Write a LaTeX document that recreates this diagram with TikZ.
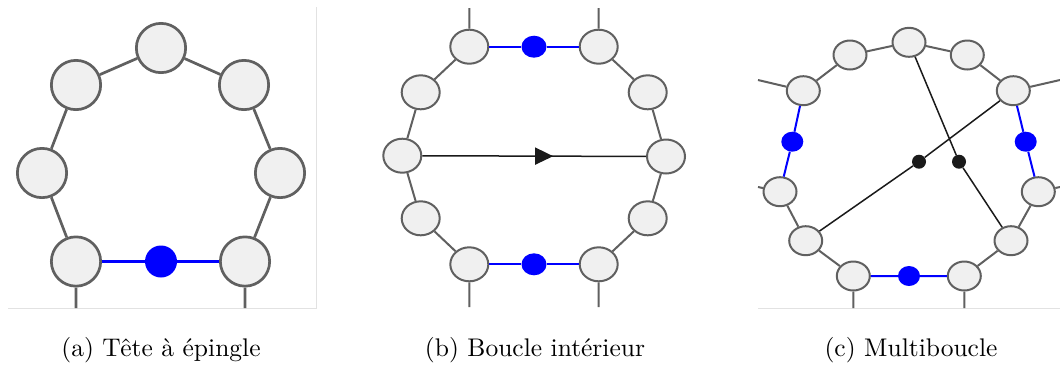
\documentclass[tikz,border=0pt]{standalone}
\usetikzlibrary{shapes.geometric,arrows.meta,decorations.markings}
\definecolor{ngray}{HTML}{606060}
\definecolor{nfill}{HTML}{F0F0F0}
\definecolor{framec}{HTML}{E2E2E2}
\definecolor{dk}{HTML}{1A1A1A}
\definecolor{bl}{RGB}{0,0,255}
\begin{document}
\begin{tikzpicture}[x=1pt,y=-1pt,
  anode/.style={circle,draw=ngray,fill=nfill,line width=2.7pt,inner sep=0pt,minimum size=49.3pt},
  aedge/.style={draw=ngray,line width=2.7pt},
  ablue/.style={circle,fill=bl,inner sep=0pt,minimum size=32pt},
  abedge/.style={draw=bl,line width=2.4pt},
  bnode/.style={ellipse,draw=ngray,fill=nfill,line width=2pt,inner sep=0pt,minimum width=38pt,minimum height=34pt},
  bedge/.style={draw=ngray,line width=2pt},
  bblue/.style={ellipse,fill=bl,inner sep=0pt,minimum width=25pt,minimum height=22pt},
  bbedge/.style={draw=bl,line width=2pt},
  cnode/.style={ellipse,draw=ngray,fill=nfill,line width=2pt,inner sep=0pt,minimum width=33pt,minimum height=29pt},
  cblue/.style={ellipse,fill=bl,inner sep=0pt,minimum width=22pt,minimum height=20pt},
  cdot/.style={circle,fill=dk,inner sep=0pt,minimum size=14pt},
  blk/.style={draw=dk,line width=1.5pt},
  framel/.style={draw=framec,line width=1pt},
  captxt/.style={anchor=base,inner sep=0pt}
]
\useasboundingbox (0,0) rectangle (1060,368);
% frames
\draw[framel] (8,308) -- (316,308) -- (316,7);
\draw[framel] (758,308) -- (1060,308);

% ---------- panel (a)
\node[anode] (a1) at (42,173) {};
\node[anode] (a2) at (76,85) {};
\node[anode] (a3) at (161,48) {};
\node[anode] (a4) at (244,85) {};
\node[anode] (a5) at (280,173) {};
\node[anode] (a6) at (245,261.5) {};
\node[anode] (a7) at (76,261.5) {};
\node[ablue] (ab) at (161,261.5) {};
\coordinate (as1) at (76,308);
\coordinate (as2) at (245,308);
\path[aedge] (a1) -- (a2) (a2) -- (a3) (a3) -- (a4) (a4) -- (a5) (a5) -- (a6) (a7) -- (a1)
  (a7) -- (as1) (a6) -- (as2);
\path[abedge] (a7) -- (ab) (ab) -- (a6);

% ---------- panel (b)
\node[bnode] (b1) at (402.3,155.7) {};
\node[bnode] (b2) at (420.7,92.3) {};
\node[bnode] (b3) at (469.3,46.7) {};
\node[bblue] (bt) at (534,46.7) {};
\node[bnode] (b4) at (598.7,46.7) {};
\node[bnode] (b5) at (647.7,92.3) {};
\node[bnode] (b6) at (666,156.5) {};
\node[bnode] (b7) at (647.7,218.3) {};
\node[bnode] (b8) at (598.7,264.3) {};
\node[bblue] (bb) at (534,264.3) {};
\node[bnode] (b9) at (469.3,264.3) {};
\node[bnode] (b10) at (420.7,218.3) {};
\coordinate (bs1) at (469.3,8);
\coordinate (bs2) at (598.7,8);
\coordinate (bs3) at (469.3,307);
\coordinate (bs4) at (598.7,307);
\path[bedge] (b1) -- (b2) (b2) -- (b3) (b4) -- (b5) (b5) -- (b6) (b6) -- (b7) (b7) -- (b8)
  (b9) -- (b10) (b10) -- (b1) (b3) -- (bs1) (b4) -- (bs2) (b9) -- (bs3) (b8) -- (bs4);
\path[bbedge] (b3) -- (bt) (bt) -- (b4) (b9) -- (bb) (bb) -- (b8);
\draw[blk, decoration={markings, mark=at position 0.585 with {\arrow{Triangle[length=18pt,width=17pt]}}}, postaction={decorate}] (b1) -- (b6);

% ---------- panel (c)
\node[cnode] (c1) at (909,42.3) {};
\node[cnode] (c2) at (850,55) {};
\node[cnode] (c3) at (967.3,55) {};
\node[cnode] (c4) at (803.3,90.7) {};
\node[cnode] (c5) at (1013.3,90.7) {};
\node[cblue] (cl) at (792.3,141.7) {};
\node[cblue] (cr) at (1025.7,141.7) {};
\node[cnode] (c6) at (780,191.7) {};
\node[cnode] (c7) at (1038.3,191.7) {};
\node[cnode] (c8) at (805.7,240.7) {};
\node[cnode] (c9) at (1011,240.7) {};
\node[cnode] (c10) at (853.3,276) {};
\node[cnode] (c11) at (964.3,276) {};
\node[cblue] (cb) at (909,276) {};
\node[cdot] (d1) at (919,161.7) {};
\node[cdot] (d2) at (959,161.7) {};
\coordinate (cs1) at (758,80);
\coordinate (cs2) at (1060,80);
\coordinate (cs3) at (758,187);
\coordinate (cs4) at (1060,187);
\coordinate (cs5) at (853.3,308);
\coordinate (cs6) at (964.3,308);
\path[bedge] (c1) -- (c2) (c1) -- (c3) (c2) -- (c4) (c3) -- (c5) (c6) -- (c8) (c8) -- (c10)
  (c11) -- (c9) (c9) -- (c7) (c4) -- (cs1) (c5) -- (cs2) (c6) -- (cs3) (c7) -- (cs4)
  (c10) -- (cs5) (c11) -- (cs6);
\path[bbedge] (c4) -- (cl) (cl) -- (c6) (c5) -- (cr) (cr) -- (c7) (c10) -- (cb) (cb) -- (c11);
\path[blk] (c1) -- (d2) (d2) -- (c9) (c5) -- (d1) (d1) -- (c8);

% captions
\node[captxt] (ta) at (161,356) {\scalebox{2.55}{(a) Tête à épingle}};
\node[captxt] (tb) at (535,356) {\scalebox{2.55}{(b) Boucle intérieur}};
\node[captxt] (tc) at (911,356) {\scalebox{2.55}{(c) Multiboucle}};
\end{tikzpicture}
\end{document}
